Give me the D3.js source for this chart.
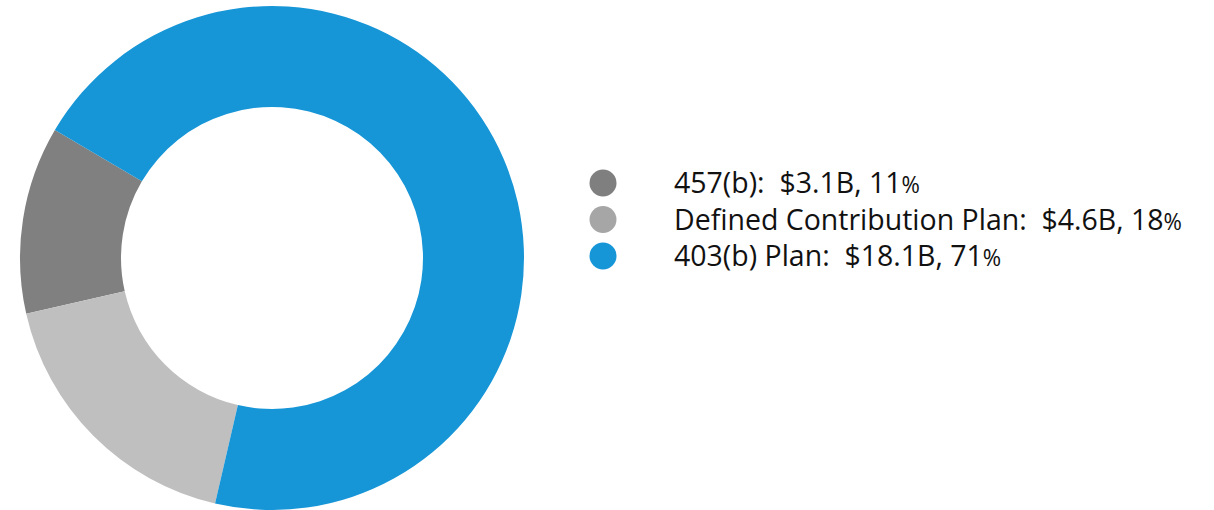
<!DOCTYPE html>
<html>
<head>
<meta charset="utf-8">
<script src="https://cdn.jsdelivr.net/npm/d3@7"></script>
<style>
  html, body { margin: 0; padding: 0; background: #fff; }
  svg { display: block; }
</style>
</head>
<body>
<svg id="chart" width="1214" height="510"></svg>
<script>
// Plan assets, in billions of dollars
const plans = ["457(b)", "Defined Contribution Plan", "403(b) Plan"];
const amounts = [3.1, 4.6, 18.1];
const shares = [11, 18, 71];
const sliceColors = ["#808080", "#bfbfbf", "#1695d7"];
const keyColors = ["#7f7f7f", "#a6a6a6", "#1695d7"];

const svg = d3.select("#chart");
const cx = 272, cy = 258, outerR = 252, innerR = 151;

// Slices run counter-clockwise from the upper-left
const start = 300.5 * Math.PI / 180;
const pie = d3.pie().sort(null).value(d => d.amount)
  .startAngle(start).endAngle(start - 2 * Math.PI);
const arc = d3.arc().innerRadius(innerR).outerRadius(outerR);

const rows = plans.map((p, i) => ({ plan: p, amount: amounts[i], share: shares[i], i }));

svg.append("g").attr("transform", `translate(${cx},${cy})`)
  .selectAll("path").data(pie(rows)).join("path")
  .attr("d", arc)
  .attr("fill", d => sliceColors[d.data.i]);

// Legend
const y = d3.scalePoint().domain(plans).range([183, 256]);
const legend = svg.append("g");
legend.selectAll("circle").data(rows).join("circle")
  .attr("cx", 603).attr("cy", d => y(d.plan)).attr("r", 13.5)
  .attr("fill", d => keyColors[d.i]);

const labels = legend.selectAll("text").data(rows).join("text")
  .attr("x", 0).attr("y", 0)
  .attr("font-family", "'Open Sans', sans-serif")
  .attr("font-size", 29.5)
  .attr("fill", "#111")
  .style("white-space", "pre");
labels.append("tspan").text(d => `${d.plan}:  $${d.amount}B, ${d.share}`);
labels.append("tspan").attr("font-size", 23).text("%");

// Narrow the lettering to a condensed width
const ref = labels.filter(d => d.i === 1).node().getComputedTextLength();
const k = 508 / ref;
labels.attr("transform", d => `translate(674,${y(d.plan) + 10}) scale(${k},1)`);
</script>
</body>
</html>
